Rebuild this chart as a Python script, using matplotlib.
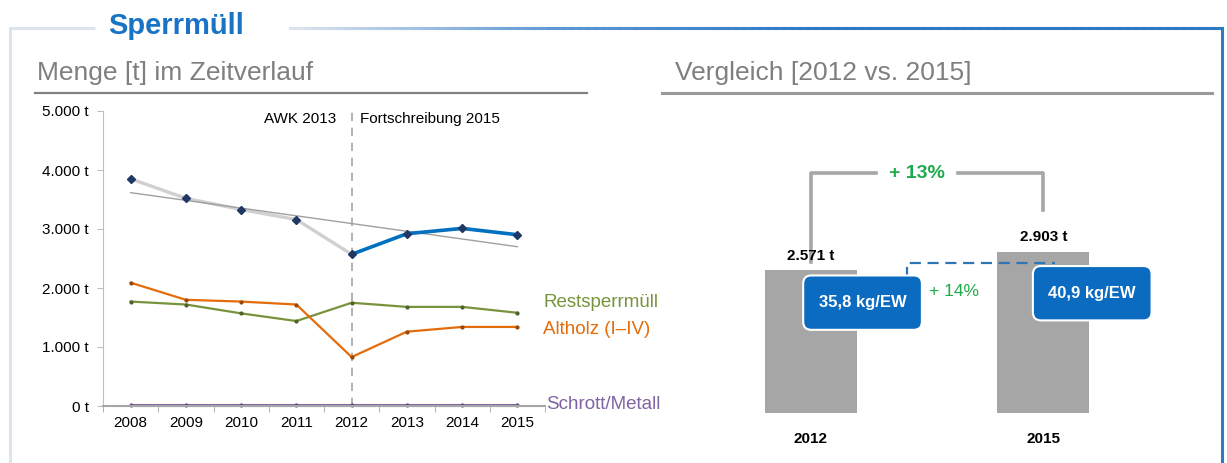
import numpy as np
import matplotlib.pyplot as plt
from matplotlib.collections import LineCollection
from matplotlib.colors import LinearSegmentedColormap
from matplotlib.patches import FancyBboxPatch

plt.rcParams['font.family'] = ['Liberation Sans', 'DejaVu Sans']

# Menge [t] im Zeitverlauf
years = [2008, 2009, 2010, 2011, 2012, 2013, 2014, 2015]
gesamt = [3850, 3520, 3330, 3160, 2571, 2920, 3010, 2903]
restsperrmuell = [1770, 1720, 1570, 1440, 1750, 1680, 1680, 1580]
altholz = [2090, 1800, 1770, 1720, 830, 1260, 1340, 1340]
schrott = [10, 10, 10, 10, 10, 10, 10, 10]
y_ticks = [0, 1000, 2000, 3000, 4000, 5000]
y_ticklabels = ['0 t', '1.000 t', '2.000 t', '3.000 t', '4.000 t', '5.000 t']

# Vergleich 2012 vs. 2015
cmp_years = ['2012', '2015']
cmp_values = [2571, 2903]
cmp_labels = ['2.571 t', '2.903 t']
per_ew = ['35,8 kg/EW', '40,9 kg/EW']
diff_total = '+ 13%'
diff_ew = '+ 14%'

c_blue = '#0070C0'
c_navy = '#1F3864'
c_green = '#77933C'
c_orange = '#E46C0A'
c_purple = '#8064A2'
c_title = '#1A74C6'
c_head = '#7F7F7F'
c_bar = '#A6A6A6'
c_pct = '#1EAA4B'

W, H = 1227, 463
fig = plt.figure(figsize=(W / 100, H / 100), dpi=100)

# frame and headings in pixel coordinates
bg = fig.add_axes([0, 0, 1, 1])
bg.set_xlim(0, W)
bg.set_ylim(H, 0)
bg.axis('off')

cmap = LinearSegmentedColormap.from_list('fr', ['#DCE4EE', '#5E98D4', '#2E7AC6'])
xs = np.linspace(290, 1222, 120)
segs = [[(xs[i], 28), (xs[i + 1], 28)] for i in range(len(xs) - 1)]
frac = np.clip((xs[:-1] - 290) / 520, 0, 1)
bg.add_collection(LineCollection(segs, colors=cmap(frac), linewidths=2.2, capstyle='projecting'))
bg.plot([10, 95], [28, 28], color='#DCE4EE', lw=2.2, solid_capstyle='butt')
bg.plot([10, 10], [28, H], color='#DCE4EE', lw=2.2)
bg.plot([1222, 1222], [28, H], color='#2E7AC6', lw=2.2)

bg.text(108, 26, 'Sperrmüll', fontsize=21, fontweight='bold', color=c_title, va='center', ha='left')
bg.text(37, 73, 'Menge [t] im Zeitverlauf', fontsize=19, color=c_head, va='center', ha='left')
bg.plot([35, 587], [93, 93], color='#808080', lw=1.6)
bg.text(675, 73, 'Vergleich [2012 vs. 2015]', fontsize=19, color=c_head, va='center', ha='left')
bg.plot([662, 1212], [93, 93], color='#9A9A9A', lw=2.2)

# line chart
ax = fig.add_axes([103 / W, 57 / H, 442 / W, 295 / H])
ax.set_xlim(2007.5, 2015.47)
ax.set_ylim(0, 5000)
for s in ['top', 'right']:
    ax.spines[s].set_visible(False)
ax.spines['left'].set_color('#BFBFBF')
ax.spines['bottom'].set_color('#A6A6A6')
ax.spines['bottom'].set_linewidth(1.5)
ax.set_yticks(y_ticks)
ax.set_yticklabels(y_ticklabels, fontsize=11)
ax.set_xticks(years)
ax.set_xticklabels([str(y) for y in years], fontsize=11)
ax.tick_params(axis='x', length=0, pad=7)
ax.tick_params(axis='y', length=4, color='#BFBFBF', pad=6)
ax.set_xticks(np.arange(2007.5, 2015.6, 1), minor=True)
ax.tick_params(axis='x', which='minor', length=4, color='#A6A6A6')

split = years.index(2012)
ax.plot(years[:split + 1], gesamt[:split + 1], color='#D0D0D0', lw=2.4, zorder=2)
ax.plot(years[split:], gesamt[split:], color=c_blue, lw=2.6, zorder=3)
coef = np.polyfit(years, gesamt, 1)
ax.plot([years[0], years[-1]], np.polyval(coef, [years[0], years[-1]]), color='#A0A0A0', lw=1, zorder=2)
ax.plot(years, gesamt, ls='none', marker='D', ms=4.5, color=c_navy, zorder=4)

ax.plot(years, restsperrmuell, color=c_green, lw=1.6, marker='o', ms=2, mfc='#4F6228', mec='#4F6228')
ax.plot(years, altholz, color=c_orange, lw=1.6, marker='o', ms=2, mfc='#974806', mec='#974806')
ax.plot(years, schrott, color=c_purple, lw=2.2, marker='o', ms=2, mfc='#5F497A', mec='#5F497A', clip_on=False)

ax.plot([2012, 2012], [0, 5000], color='#A6A6A6', lw=1.2, ls=(0, (5, 4)), zorder=1)
ax.text(2011.72, 4870, 'AWK 2013', fontsize=11, ha='right', va='center')
ax.text(2012.16, 4870, 'Fortschreibung 2015', fontsize=11, ha='left', va='center')

ax.text(2015.47, 1760, 'Restsperrmüll', fontsize=13.5, color=c_green, va='center', ha='left', clip_on=False)
ax.text(2015.47, 1290, 'Altholz (I–IV)', fontsize=13.5, color=c_orange, va='center', ha='left', clip_on=False)
ax.text(2015.52, 20, 'Schrott/Metall', fontsize=13.5, color=c_purple, va='center', ha='left', clip_on=False)

# bar comparison
bx = fig.add_axes([671 / W, 50 / H, 512 / W, 305 / H])
bx.set_xlim(-0.6, 1.6)
bx.set_ylim(0, 5500)
pos = np.arange(len(cmp_years))
bx.bar(pos, cmp_values, width=0.395, color=c_bar, zorder=1)
for s in bx.spines.values():
    s.set_visible(False)
bx.set_yticks([])
bx.set_xticks(pos)
bx.set_xticklabels(cmp_years, fontsize=11, fontweight='bold')
bx.tick_params(axis='x', length=0, pad=14)
for p, v, lab in zip(pos, cmp_values, cmp_labels):
    bx.text(p, v + 140, lab, ha='center', va='bottom', fontsize=11, fontweight='bold')

top = 4320
bx.plot([pos[0], pos[0], 0.28], [cmp_values[0] + 150, top, top], color='#A6A6A6', lw=2.6, clip_on=False)
bx.plot([0.635, pos[1], pos[1]], [top, top, cmp_values[1] + 750], color='#A6A6A6', lw=2.6, clip_on=False)
bx.text(0.455, top, diff_total, ha='center', va='center', fontsize=14, fontweight='bold', color=c_pct)

bx.plot([0.416, 0.416, 1.05], [2430, 2700, 2700], color='#2E75B6', lw=1.6, ls=(0, (5, 3)), zorder=2)
bx.text(0.51, 2200, diff_ew, ha='left', va='center', fontsize=12.5, color=c_pct)

aspect = (5500 / 305) * (512 / 2.2)
for (cx, cy), lab in zip([(0.223, 1990), (1.21, 2160)], per_ew):
    bw, bh = 0.51, 980
    box = FancyBboxPatch((cx - bw / 2, cy - bh / 2), bw, bh,
                         boxstyle='round,pad=0,rounding_size=0.035', mutation_aspect=aspect,
                         facecolor='#0B6BC0', edgecolor='white', lw=1.5, zorder=3)
    bx.add_patch(box)
    bx.text(cx, cy, lab, ha='center', va='center', fontsize=12, fontweight='bold', color='white', zorder=4)

fig.savefig('out.png', dpi=100)
